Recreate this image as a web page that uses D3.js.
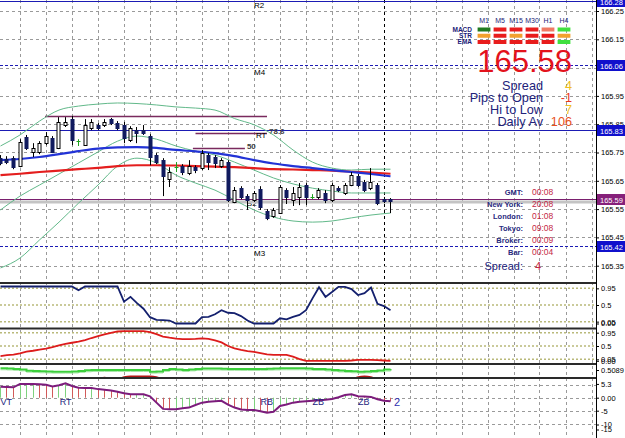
<!DOCTYPE html>
<html>
<head>
<meta charset="utf-8">
<script src="https://cdn.jsdelivr.net/npm/d3@7"></script>
<style>
  body { margin: 0; background: #fff; }
  svg { display: block; font-family: 'Liberation Sans', Arial, sans-serif; }
</style>
</head>
<body>
<svg id="chart" width="625" height="438"></svg>
<script>
// ---- bars, oldest first (price)
const opens = [165.730,165.727,165.730,165.702,165.805,165.752,165.752,165.783,165.801,165.766,
  165.847,165.868,165.790,165.776,165.836,165.847,165.847,165.868,165.854,165.847,
  165.794,165.829,165.829,165.808,165.741,165.723,165.656,165.697,165.702,165.677,
  165.698,165.695,165.741,165.734,165.702,165.716,165.575,165.624,165.596,165.582,
  165.621,165.543,165.526,165.536,165.617,165.582,165.593,165.635,165.594,165.593,
  165.607,165.582,165.624,165.607,165.635,165.666,165.645,165.624,165.635,165.585,
  165.585]
const highs = [165.741,165.737,165.737,165.797,165.812,165.783,165.790,165.822,165.808,165.875,
  165.875,165.879,165.797,165.868,165.868,165.854,165.868,165.872,165.861,165.858,
  165.843,165.840,165.847,165.815,165.748,165.730,165.698,165.716,165.709,165.723,
  165.705,165.759,165.748,165.741,165.730,165.723,165.628,165.631,165.603,165.614,
  165.631,165.550,165.554,165.635,165.624,165.628,165.642,165.642,165.603,165.624,
  165.617,165.642,165.631,165.642,165.681,165.674,165.653,165.695,165.642,165.593,
  165.589]
const lows = [165.705,165.709,165.691,165.698,165.759,165.734,165.744,165.776,165.748,165.762,
  165.840,165.776,165.773,165.773,165.829,165.829,165.840,165.847,165.829,165.783,
  165.787,165.783,165.812,165.705,165.709,165.596,165.628,165.681,165.670,165.670,
  165.677,165.688,165.688,165.695,165.695,165.575,165.571,165.585,165.547,165.575,
  165.547,165.511,165.519,165.533,165.568,165.561,165.564,165.564,165.585,165.585,
  165.571,165.575,165.610,165.600,165.631,165.628,165.610,165.617,165.564,165.571,
  165.536]
const closes = [165.713,165.716,165.698,165.787,165.766,165.766,165.783,165.808,165.752,165.858,
  165.858,165.794,165.790,165.847,165.858,165.836,165.858,165.854,165.836,165.801,
  165.836,165.819,165.819,165.734,165.716,165.666,165.681,165.697,165.681,165.702,
  165.688,165.748,165.716,165.713,165.723,165.582,165.617,165.593,165.582,165.607,
  165.557,165.519,165.547,165.628,165.593,165.607,165.628,165.593,165.594,165.617,
  165.582,165.635,165.617,165.635,165.670,165.635,165.617,165.645,165.571,165.578,
  165.578]

// ---- overlays, read every third bar
const maIndex = [0,3,6,9,12,15,18,21,24,27,30,33,36,39,42,45,48,51,54,57,60]
const maBlue = [165.723,165.727,165.734,165.744,165.755,165.764,165.768,165.769,165.766,165.759,
  165.754,165.748,165.737,165.723,165.711,165.702,165.695,165.688,165.681,165.674,165.666]
const maRed = [165.670,165.675,165.681,165.686,165.691,165.696,165.702,165.705,165.705,165.704,
  165.702,165.700,165.698,165.695,165.691,165.690,165.688,165.686,165.682,165.679,165.675]
const bbUpper = [165.773,165.812,165.861,165.900,165.914,165.921,165.925,165.923,165.918,165.911,
  165.907,165.900,165.870,165.848,165.812,165.759,165.716,165.695,165.688,165.691,165.691]
const bbMiddle = [165.547,165.596,165.635,165.674,165.713,165.752,165.790,165.808,165.797,165.773,
  165.755,165.741,165.716,165.688,165.660,165.639,165.624,165.614,165.607,165.607,165.607]
const bbLower = [165.342,165.377,165.441,165.504,165.571,165.635,165.702,165.730,165.713,165.670,
  165.642,165.617,165.582,165.547,165.522,165.508,165.504,165.508,165.519,165.529,165.536]

// ---- horizontal levels
const priceTicks = [166.25,166.15,166.05,165.95,165.85,165.75,165.65,165.55,165.45,165.35]
const levelPrices = [166.284, 166.06, 165.83, 165.42]
const levelDashed = [false, true, false, true]
const levelNames = ['R2', 'M4', '', 'M3']
const boxPrices = [166.284, 166.06, 165.83, 165.585, 165.42]
const boxTexts = ['166.28', '166.06', '165.83', '165.59', '165.42']
const bidPrice = 165.585
const askPrice = 165.575
// fib segments: [fromBar, toBar, price]
const fibFrom = [6.85, 30, 29.6]
const fibTo = [41, 41, 37.6]
const fibPrice = [165.879, 165.819, 165.766]
const fibText = ['', '78.6', '50']

// ---- sub windows
const oscBlue = [1,1,1,1,1,1,1,1,1,1, 1,1,0.9,1,1,1,1,1,1,0.59,
  0.72,0.55,0.4,0.17,0.1,0.09,0.08,0,0,0, 0,0.17,0.18,0.25,0.36,0.29,0.28,0.2,0.08,0,
  0,0,0,0.14,0.11,0.18,0.23,0.36,0.68,0.98, 0.72,0.85,0.99,0.99,0.93,0.77,0.82,0.97,0.53,0.47, 0.36]
const oscRed = [0.16,0.19,0.21,0.25,0.31,0.34,0.38,0.41,0.46,0.52, 0.57,0.61,0.65,0.7,0.77,0.83,0.89,0.94,0.99,1,
  1,1,1,0.97,0.9,0.82,0.78,0.75,0.73,0.73, 0.74,0.76,0.74,0.69,0.62,0.5,0.42,0.37,0.33,0.3,
  0.26,0.22,0.2,0.2,0.2,0.14,0.06,0,0,0, 0,0,0,0,0.01,0.03,0.03,0.03,0.02,0.01, 0]
const trendGreen = [0.5106,0.5104,0.5100,0.5095,0.5082,0.5079,0.5076,0.5074,0.5072,0.5072,
  0.5072,0.5074,0.5080,0.5086,0.5089,0.5089,0.5089,0.5089,0.5089,0.5089,
  0.5089,0.5089,0.5089,0.5072,0.5074,0.5090,0.5099,0.5095,0.5089,0.5095,
  0.5100,0.5104,0.5104,0.5104,0.5102,0.5100,0.5100,0.5099,0.5099,0.5099,
  0.5100,0.5102,0.5104,0.5106,0.5106,0.5106,0.5106,0.5103,0.5099,0.5099,
  0.5094,0.5089,0.5084,0.5080,0.5076,0.5072,0.5075,0.5079,0.5085,0.5093, 0.5099]
const trendRed = [0,0,0,0,0,0,0,0,0,0, 0,0,0,0,0,0,0.2,0,0,0.3,
  0.4,0.4,0.4,0.4,0.3,0,0,0,0,0, 0,0,0,0,0,0,0,0,0,0,
  0,0,0,0,0,0,0,0,0,0, 0,0,0,0,0,0.3,0.4,0.3,0,0, 0]
const wave = [4.2,4.1,4.0,5.3,5.3,5.3,5.2,5.0,4.3,4.8, 5.5,4.5,3.8,3.7,3.7,3.3,3.1,2.8,2.3,1.7,
  1.3,1.3,1.3,0.5,-1.9,-4.3,-4.4,-4.4,-4.1,-3.8, -2.8,-1.9,-1.6,-1.4,-1.2,-2.7,-3.8,-4.5,-4.7,-4.7,
  -5.2,-5.8,-5.4,-3.2,-2.6,-1.9,-1.6,-1.4,-1.2,-1.0, -0.8,-0.5,0.2,1.0,1.3,0.6,0.5,0.3,-0.6,-1.2, -1.4]
const waveMarks = ['VT', 'RT', 'RB', 'ZB', 'ZB']
const waveMarkBars = [0, 9.1, 40, 48, 55]

// ---- info panel
const timeframes = ['M1', 'M5', 'M15', 'M30', 'H1', 'H4']
const signalRows = ['MACD', 'STR', 'EMA']
const signalColors = [
  ['#1f7a1f', '#e81c1c', '#e81c1c', '#e81c1c', '#f07a64', '#3fe03f'],
  ['#f2a12e', '#e81c1c', '#f2a12e', '#e81c1c', '#e81c1c', '#f2a12e'],
  ['#e81c1c', '#e81c1c', '#e81c1c', '#e81c1c', '#e81c1c', '#3fe03f']
]
const lastPrice = '165.58'
const statNames = ['Spread', 'Pips to Open', 'Hi to Low', 'Daily Av']
const statValues = ['4', '-1', '7', '106']
const statColors = ['#f0c020', '#e8381c', '#f0c020', '#e8501c']
const clockNames = ['GMT:', 'New York:', 'London:', 'Tokyo:', 'Broker:', 'Bar:']
const clockValues = ['00:08', '20:08', '01:08', '09:08', '00:09', '00:04']
const spreadNow = '4'

// ---------------------------------------------------------------
const W = 625
const H = 438
const axisX = 596
const svg = d3.select('#chart')

const x = d3.scaleLinear().domain([0, 60]).range([0.5, 390.5])
const cx = i => Math.floor(x(i)) + 0.5
const yMain = d3.scaleLinear().domain([165.35, 166.25]).range([265.7, 11])
const yOsc1 = d3.scaleLinear().domain([0, 1]).range([323.5, 286.5])
const yOsc2 = d3.scaleLinear().domain([0, 1]).range([360.8, 331.2])
const yTrend = d3.scaleLinear().domain([0.5009, 0.5169]).range([378, 362])
const yTrendHist = d3.scaleLinear().domain([0, 1]).range([378, 372])
const yWave = d3.scaleLinear().domain([-10, 5]).range([423.7, 384.7])

const panels = [
  { id: 'main', top: 0, bottom: 283 },
  { id: 'p1', top: 284, bottom: 328 },
  { id: 'p2', top: 329, bottom: 363.5 },
  { id: 'p3', top: 365, bottom: 377.5 },
  { id: 'p4', top: 379, bottom: 438 }
]
const defs = svg.append('defs')
panels.forEach(p => {
  defs.append('clipPath').attr('id', 'clip-' + p.id)
    .append('rect').attr('x', 0).attr('y', p.top).attr('width', axisX).attr('height', p.bottom - p.top)
})

svg.append('rect').attr('width', W).attr('height', H).attr('fill', '#fff')

// vertical grid through every window
const gridBars = d3.range(3, 92, 4)
svg.append('g').selectAll('line').data(gridBars).join('line')
  .attr('x1', d => cx(d)).attr('x2', d => cx(d))
  .attr('y1', 0).attr('y2', H)
  .attr('stroke', d => d === 59 ? '#000' : '#9a9a9a')
  .attr('stroke-dasharray', '3,3')

// ---------------- main window
const gMain = svg.append('g').attr('clip-path', 'url(#clip-main)')
const hy = v => Math.round(yMain(v)) + 0.5

gMain.append('g').selectAll('line').data(priceTicks).join('line')
  .attr('x1', 0).attr('x2', axisX).attr('y1', hy).attr('y2', hy)
  .attr('stroke', '#9a9a9a').attr('stroke-dasharray', '3,3')

gMain.append('g').selectAll('line').data(levelPrices).join('line')
  .attr('x1', 0).attr('x2', axisX).attr('y1', hy).attr('y2', hy)
  .attr('stroke', '#1b1bb4')
  .attr('stroke-dasharray', (d, i) => levelDashed[i] ? '3,2' : null)

gMain.append('g').selectAll('text').data(levelPrices).join('text')
  .attr('x', x(39)).attr('y', (d, i) => yMain(d) + (i === 0 ? 7 : 10))
  .attr('font-size', 8).attr('fill', '#000')
  .text((d, i) => levelNames[i])

// fib segments
gMain.append('g').selectAll('line').data(fibPrice).join('line')
  .attr('x1', (d, i) => x(fibFrom[i])).attr('x2', (d, i) => x(fibTo[i]))
  .attr('y1', hy).attr('y2', hy)
  .attr('stroke', '#7a2a5e').attr('stroke-width', 1.5)
gMain.append('g').selectAll('text').data(fibPrice).join('text')
  .attr('x', (d, i) => x(fibTo[i]) + 2).attr('y', d => yMain(d) + 1)
  .attr('font-size', 8).attr('font-weight', 'bold').attr('fill', '#404040')
  .text((d, i) => fibText[i])
gMain.append('text').attr('x', x(39.3)).attr('y', yMain(fibPrice[1]) + 5)
  .attr('font-size', 8).attr('fill', '#000').text('RT')
gMain.append('text').attr('x', x(37.9)).attr('y', yMain(165.56))
  .attr('font-size', 8).attr('fill', '#000').text('S2')

// bid / ask
gMain.append('line').attr('x1', 0).attr('x2', axisX)
  .attr('y1', yMain(askPrice)).attr('y2', yMain(askPrice))
  .attr('stroke', '#c4c4c4').attr('stroke-width', 3)
gMain.append('line').attr('x1', 0).attr('x2', axisX)
  .attr('y1', hy(bidPrice)).attr('y2', hy(bidPrice))
  .attr('stroke', '#7a1f6e')

// bollinger + moving averages
const maLine = vals => d3.line()
  .x((d, k) => x(maIndex[k])).y(d => yMain(d))
  .curve(d3.curveMonotoneX)(vals)
;[bbUpper, bbMiddle, bbLower].forEach(b => {
  gMain.append('path').attr('d', maLine(b))
    .attr('fill', 'none').attr('stroke', '#62b98a').attr('stroke-width', 1)
})
gMain.append('path').attr('d', maLine(maRed))
  .attr('fill', 'none').attr('stroke', '#e41e1e').attr('stroke-width', 2.2)
gMain.append('path').attr('d', maLine(maBlue))
  .attr('fill', 'none').attr('stroke', '#2233d6').attr('stroke-width', 2.2)

// candles
const bars = opens.map((o, i) => ({ i, o, h: highs[i], l: lows[i], c: closes[i] }))
const gBars = gMain.append('g').selectAll('g').data(bars).join('g')
gBars.append('line')
  .attr('x1', d => cx(d.i)).attr('x2', d => cx(d.i))
  .attr('y1', d => yMain(d.h)).attr('y2', d => yMain(d.l))
  .attr('stroke', d => d.o === d.c ? '#1fa01f' : '#000')
gBars.filter(d => d.o === d.c).append('line')
  .attr('x1', d => cx(d.i) - 2).attr('x2', d => cx(d.i) + 2)
  .attr('y1', d => hy(d.o)).attr('y2', d => hy(d.o))
  .attr('stroke', '#1fa01f')
gBars.filter(d => d.o !== d.c).append('rect')
  .attr('x', d => cx(d.i) - 1.5).attr('width', 3)
  .attr('y', d => Math.round(yMain(Math.max(d.o, d.c))) + 0.5)
  .attr('height', d => Math.max(1, Math.round(yMain(Math.min(d.o, d.c)) - yMain(Math.max(d.o, d.c)))))
  .attr('fill', d => d.c > d.o ? '#fff' : '#101a5e')
  .attr('stroke', d => d.c > d.o ? '#000' : '#101a5e')

// ---------------- info panel
const col = d3.scaleBand().domain(timeframes).range([476, 572]).paddingInner(0.2).paddingOuter(0.1)
const rowY = d3.scalePoint().domain(signalRows).range([27.5, 40])
const gInfo = svg.append('g')
gInfo.selectAll('text.tf').data(timeframes).join('text').attr('class', 'tf')
  .attr('x', d => col(d) + col.bandwidth() / 2).attr('y', 23)
  .attr('text-anchor', 'middle').attr('font-size', 7).attr('fill', '#1c1c78')
  .text(d => d)
gInfo.selectAll('text.row').data(signalRows).join('text').attr('class', 'row')
  .attr('x', 472).attr('y', d => rowY(d) + 4)
  .attr('text-anchor', 'end').attr('font-size', 6.5).attr('font-weight', 'bold').attr('fill', '#1c1c78')
  .text(d => d)
signalRows.forEach((r, ri) => {
  gInfo.append('g').selectAll('rect').data(timeframes).join('rect')
    .attr('x', d => col(d)).attr('y', rowY(r)).attr('width', col.bandwidth()).attr('height', 4)
    .attr('fill', (d, ci) => signalColors[ri][ci])
})
gInfo.append('text').attr('x', 572).attr('y', 72)
  .attr('text-anchor', 'end').attr('font-size', 31).attr('fill', '#e3121c')
  .text(lastPrice)
const statY = d3.scalePoint().domain(statNames).range([89.5, 125.5])
gInfo.selectAll('text.sn').data(statNames).join('text').attr('class', 'sn')
  .attr('x', 543).attr('y', d => statY(d))
  .attr('text-anchor', 'end').attr('font-size', 12.7).attr('fill', '#22227a')
  .text(d => d)
gInfo.selectAll('text.sv').data(statValues).join('text').attr('class', 'sv')
  .attr('x', 572).attr('y', (d, i) => statY(statNames[i]))
  .attr('text-anchor', 'end').attr('font-size', 12.7).attr('fill', (d, i) => statColors[i])
  .text(d => d)
const clockY = d3.scalePoint().domain(clockNames).range([194.5, 254.5])
gInfo.selectAll('text.cn').data(clockNames).join('text').attr('class', 'cn')
  .attr('x', 523).attr('y', d => clockY(d))
  .attr('text-anchor', 'end').attr('font-size', 7.5).attr('font-weight', 'bold').attr('fill', '#2a2a7e')
  .text(d => d)
gInfo.selectAll('text.cv').data(clockValues).join('text').attr('class', 'cv')
  .attr('x', 532).attr('y', (d, i) => clockY(clockNames[i]))
  .attr('font-size', 8.5).attr('fill', '#c42844')
  .text(d => d)
gInfo.append('text').attr('x', 523).attr('y', 269.5)
  .attr('text-anchor', 'end').attr('font-size', 11).attr('fill', '#22227a').text('Spread:')
gInfo.append('text').attr('x', 535).attr('y', 269.5)
  .attr('font-size', 11).attr('fill', '#c42844').text(spreadNow)

// ---------------- window 1: blue oscillator
const osc1Levels = [0.95, 0.5, 0.05]
const g1 = svg.append('g').attr('clip-path', 'url(#clip-p1)')
g1.selectAll('line').data(osc1Levels).join('line')
  .attr('x1', 0).attr('x2', axisX).attr('y1', d => yOsc1(d)).attr('y2', d => yOsc1(d))
  .attr('stroke', '#b9b97a').attr('stroke-width', 1.5).attr('stroke-dasharray', '2,2')
g1.append('path')
  .attr('d', d3.line().x((d, i) => x(i)).y(d => yOsc1(d))(oscBlue))
  .attr('fill', 'none').attr('stroke', '#14206e').attr('stroke-width', 1.8)

// ---------------- window 2: red oscillator
const g2 = svg.append('g').attr('clip-path', 'url(#clip-p2)')
g2.selectAll('line').data(osc1Levels).join('line')
  .attr('x1', 0).attr('x2', axisX).attr('y1', d => yOsc2(d)).attr('y2', d => yOsc2(d))
  .attr('stroke', '#b9b97a').attr('stroke-width', 1.5).attr('stroke-dasharray', '2,2')
g2.append('path')
  .attr('d', d3.line().x((d, i) => x(i)).y(d => yOsc2(d))(oscRed))
  .attr('fill', 'none').attr('stroke', '#dd1c1c').attr('stroke-width', 1.8)

// ---------------- window 3: green trend
const g3 = svg.append('g').attr('clip-path', 'url(#clip-p3)')
g3.append('path')
  .attr('d', d3.area().x((d, i) => x(i)).y0(yTrendHist(0)).y1(d => yTrendHist(d)).curve(d3.curveMonotoneX)(trendRed))
  .attr('fill', '#b21414')
g3.append('path')
  .attr('d', d3.line().x((d, i) => x(i)).y(d => yTrend(d) + 1.5).curve(d3.curveStepAfter)(trendGreen))
  .attr('fill', 'none').attr('stroke', '#a8e8a8').attr('stroke-width', 1)
g3.append('path')
  .attr('d', d3.line().x((d, i) => x(i)).y(d => yTrend(d)).curve(d3.curveStepAfter)(trendGreen))
  .attr('fill', 'none').attr('stroke', '#3ccf3c').attr('stroke-width', 2)

// ---------------- window 4: wave histogram
const waveLevels = [5, 0, -5, -10]
const g4 = svg.append('g').attr('clip-path', 'url(#clip-p4)')
g4.selectAll('line.lvl').data(waveLevels).join('line').attr('class', 'lvl')
  .attr('x1', 0).attr('x2', axisX).attr('y1', d => Math.round(yWave(d)) + 0.5).attr('y2', d => Math.round(yWave(d)) + 0.5)
  .attr('stroke', '#9a9a9a').attr('stroke-dasharray', '3,3')
g4.selectAll('line.hist').data(wave).join('line').attr('class', 'hist')
  .attr('x1', (d, i) => cx(i)).attr('x2', (d, i) => cx(i))
  .attr('y1', yWave(0)).attr('y2', d => yWave(d))
  .attr('stroke', (d, i) => i > 0 && d < wave[i - 1] ? '#d25a5a' : '#7ed27e')
g4.append('path')
  .attr('d', d3.line().x((d, i) => x(i)).y(d => yWave(d))(wave))
  .attr('fill', 'none').attr('stroke', '#7c1c7c').attr('stroke-width', 2)
g4.selectAll('text').data(waveMarks).join('text')
  .attr('x', (d, i) => x(waveMarkBars[i])).attr('y', yWave(-2.7))
  .attr('font-size', 9).attr('fill', '#23237e')
  .text(d => d)
svg.append('text').attr('x', 394).attr('y', yWave(-3.3))
  .attr('font-size', 11).attr('fill', '#3030b0').text('2')

// ---------------- frames
svg.append('g').selectAll('line').data([283, 328.5, 364, 378]).join('line')
  .attr('x1', 0).attr('x2', axisX).attr('y1', d => d).attr('y2', d => d)
  .attr('stroke', '#2a2a2a').attr('stroke-width', 2)
svg.append('line').attr('x1', axisX + 0.5).attr('x2', axisX + 0.5).attr('y1', 0).attr('y2', H)
  .attr('stroke', '#000')

// ---------------- right scales
function rightAxis (scale, values, labels) {
  const g = svg.append('g').attr('transform', `translate(${axisX},0)`)
    .call(d3.axisRight(scale).tickValues(values).tickSize(3).tickPadding(2)
      .tickFormat((d, i) => labels ? labels[i] : d3.format('.2f')(d)))
  g.select('.domain').remove()
  g.selectAll('text').attr('font-size', 7.5).attr('font-family', "'Liberation Sans', Arial, sans-serif").attr('fill', '#000')
  g.selectAll('line').attr('stroke', '#000')
  return g
}
rightAxis(yMain, priceTicks)
rightAxis(yOsc1, [0.95, 0.5, 0.05, 0], ['0.95', '0.5', '0.05', '0.00'])
rightAxis(yOsc2, [0.95, 0.5, 0.05, 0], ['0.95', '0.5', '0.05', '0.00'])
rightAxis(yTrend, [0.5089], ['0.5089'])
const waveAxis = rightAxis(yWave, [5.3, 0, -5, -10, -15], ['5.3', '0.00', '-5', '-10', '-15'])
// the window clamps its lowest labels, so they pile up near the bottom edge
waveAxis.selectAll('.tick').filter(d => d <= -10)
  .attr('transform', d => `translate(0,${d === -10 ? 425 : 430})`)

// price boxes
const gBox = svg.append('g')
gBox.selectAll('rect').data(boxPrices).join('rect')
  .attr('x', axisX + 1).attr('y', d => Math.round(yMain(d)) - 5).attr('width', 28).attr('height', 11)
  .attr('fill', d => d === bidPrice ? '#86207a' : '#1010cc')
gBox.selectAll('text').data(boxPrices).join('text')
  .attr('x', axisX + 4).attr('y', d => Math.round(yMain(d)) + 3.5)
  .attr('font-size', 7.5).attr('fill', '#fff')
  .text((d, i) => boxTexts[i])
</script>
</body>
</html>
